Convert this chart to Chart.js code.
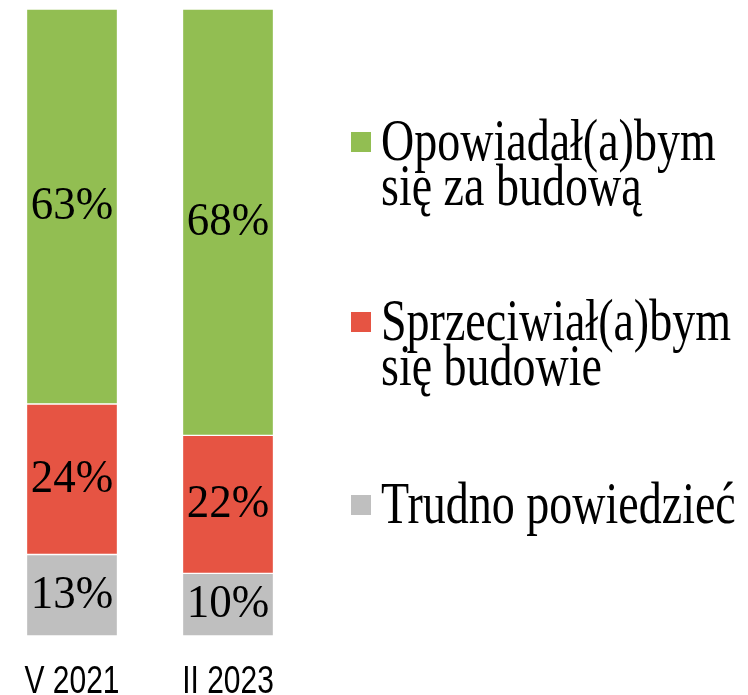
<!DOCTYPE html>
<html>
<head>
<meta charset="utf-8">
<script src="https://cdn.jsdelivr.net/npm/chart.js@4"></script>
<style>
  html, body { margin: 0; padding: 0; background: #fff; }
  #wrap { width: 748px; height: 695px; position: relative; }
</style>
</head>
<body>
<div id="wrap"><canvas id="chart"></canvas></div>
<script>
// Survey waves on the x axis
const categories = ['V 2021', 'II 2023'];

// Answer shares in percent, one array per answer
const supportValues = [63, 68];
const againstValues = [24, 22];
const unsureValues = [13, 10];

// Legend texts, already split into lines
const supportLabel = ['Opowiadał(a)bym', 'się za budową'];
const againstLabel = ['Sprzeciwiał(a)bym', 'się budowie'];
const unsureLabel = ['Trudno powiedzieć'];

const GREEN = '#92BE52';
const RED = '#E65443';
const GREY = '#BFBFBF';

// The source picture is squeezed horizontally, so text gets a vertical stretch
const STRETCH = 1.3;

function stretchedText(ctx, text, x, y, stretch) {
  ctx.save();
  ctx.translate(x, y);
  ctx.scale(1, stretch);
  ctx.fillText(text, 0, 0);
  ctx.restore();
}

// Percent labels inside each bar segment
const segmentLabels = {
  id: 'segmentLabels',
  afterDatasetsDraw(chart) {
    const ctx = chart.ctx;
    ctx.save();
    ctx.font = '45px "Liberation Serif", serif';
    ctx.fillStyle = '#000';
    ctx.textAlign = 'center';
    ctx.textBaseline = 'middle';
    chart.data.datasets.forEach((ds, i) => {
      const meta = chart.getDatasetMeta(i);
      meta.data.forEach((bar, j) => {
        const y = (bar.y + bar.base) / 2;
        stretchedText(ctx, ds.data[j] + '%', bar.x, y, 1.05);
      });
    });
    ctx.restore();
  }
};

// Category names under the bars, placed with the x scale
const categoryTicks = {
  id: 'categoryTicks',
  afterDraw(chart) {
    const ctx = chart.ctx;
    const xScale = chart.scales.x;
    ctx.save();
    ctx.font = '30px "Liberation Sans", Arial, sans-serif';
    ctx.fillStyle = '#000';
    ctx.textAlign = 'center';
    ctx.textBaseline = 'alphabetic';
    chart.data.labels.forEach((label, i) => {
      stretchedText(ctx, label, xScale.getPixelForTick(i), 693, STRETCH);
    });
    ctx.restore();
  }
};

// Legend on the right, top answer first, with wrapped text
const sideLegend = {
  id: 'sideLegend',
  afterDraw(chart) {
    const ctx = chart.ctx;
    const baselines = [160, 340, 523];
    const lineGap = 45;
    const boxX = 351, boxSize = 20, textX = 381;
    const items = chart.data.datasets.slice().reverse();
    ctx.save();
    ctx.font = '46px "Liberation Serif", serif';
    ctx.fillStyle = '#000';
    ctx.textAlign = 'left';
    ctx.textBaseline = 'alphabetic';
    items.forEach((ds, i) => {
      const base = baselines[i];
      ctx.fillStyle = ds.backgroundColor;
      ctx.fillRect(boxX, base - 28, boxSize, boxSize);
      ctx.fillStyle = '#000';
      ds.label.forEach((line, k) => {
        stretchedText(ctx, line, textX, base + k * lineGap, STRETCH);
      });
    });
    ctx.restore();
  }
};

new Chart(document.getElementById('chart'), {
  type: 'bar',
  data: {
    labels: categories,
    datasets: [
      { label: unsureLabel, data: unsureValues, backgroundColor: GREY },
      { label: againstLabel, data: againstValues, backgroundColor: RED },
      { label: supportLabel, data: supportValues, backgroundColor: GREEN }
    ].map(ds => Object.assign(ds, {
      borderColor: '#fff',
      borderWidth: 1,
      borderSkipped: false,
      barThickness: 91,
      clip: false
    }))
  },
  options: {
    responsive: true,
    maintainAspectRatio: false,
    animation: false,
    layout: { padding: { left: 72, right: 520, top: 9, bottom: 59 } },
    scales: {
      x: { stacked: true, display: false, offset: false },
      y: { stacked: true, display: false, min: 0, max: 100 }
    },
    plugins: {
      legend: { display: false },
      tooltip: { enabled: false }
    }
  },
  plugins: [segmentLabels, categoryTicks, sideLegend]
});
</script>
</body>
</html>
